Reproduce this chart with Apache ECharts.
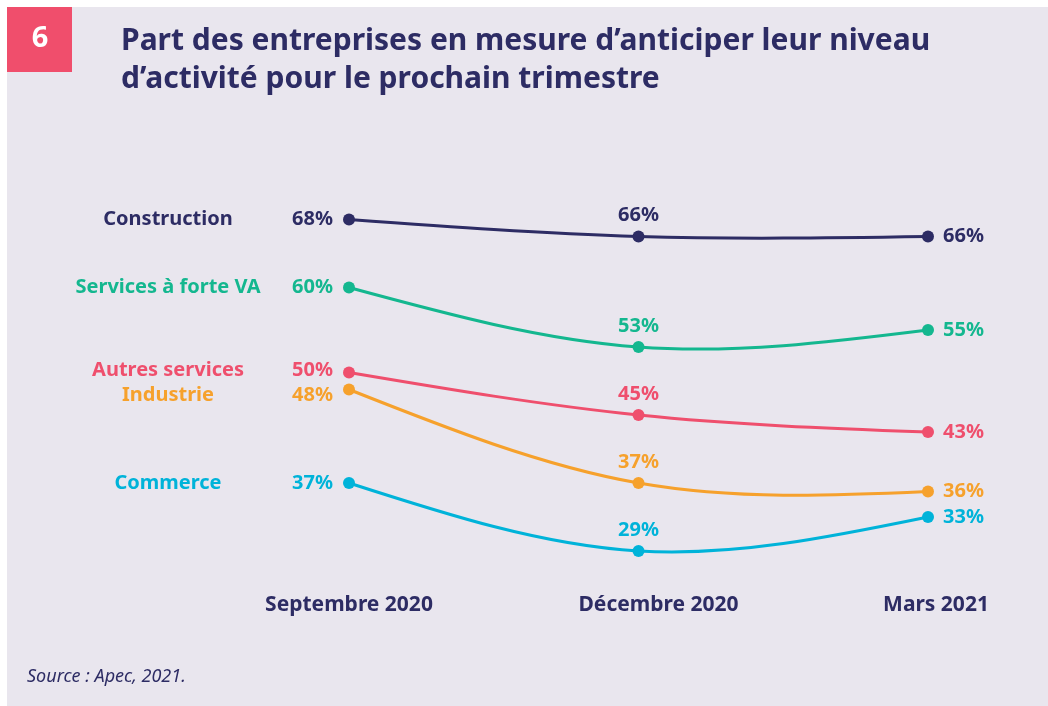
<!DOCTYPE html>
<html>
<head>
<meta charset="utf-8">
<script src="https://cdn.jsdelivr.net/npm/echarts@6/dist/echarts.min.js"></script>
<style>
  html, body { margin: 0; padding: 0; background: #fff; }
  #chart { width: 1048px; height: 706px; }
</style>
</head>
<body>
<div id="chart"></div>
<script>
const categories = ['Septembre 2020', 'Décembre 2020', 'Mars 2021']
const seriesNames = ['Construction', 'Services à forte VA', 'Autres services', 'Industrie', 'Commerce']
const construction = [68, 66, 66]
const servicesVA = [60, 53, 55]
const autresServices = [50, 45, 43]
const industrie = [48, 37, 36]
const commerce = [37, 29, 33]
const colors = ['#2d2c64', '#14b78f', '#ef4f6d', '#f6a12c', '#00b3d9']
// vertical nudge of the left-hand labels so close series don't collide
const leftLabelShift = [0, 0, -2, 6, 0]

const font = 'Noto Sans'
const navy = '#2d2c64'
const fs = 20

// natural cubic spline through pixel points -> bezier segments
function naturalSpline(pts) {
  const n = pts.length
  const solve = (k) => {
    const a = [], b = [], c = [], r = []
    for (let i = 0; i < n; i++) {
      if (i === 0) { a[i] = 0; b[i] = 2; c[i] = 1; r[i] = 3 * (pts[1][k] - pts[0][k]) }
      else if (i === n - 1) { a[i] = 1; b[i] = 2; c[i] = 0; r[i] = 3 * (pts[n - 1][k] - pts[n - 2][k]) }
      else { a[i] = 1; b[i] = 4; c[i] = 1; r[i] = 3 * (pts[i + 1][k] - pts[i - 1][k]) }
    }
    for (let i = 1; i < n; i++) {
      const m = a[i] / b[i - 1]
      b[i] -= m * c[i - 1]
      r[i] -= m * r[i - 1]
    }
    const d = []
    d[n - 1] = r[n - 1] / b[n - 1]
    for (let i = n - 2; i >= 0; i--) d[i] = (r[i] - c[i] * d[i + 1]) / b[i]
    return d
  }
  const dx = solve(0)
  const dy = solve(1)
  const segs = []
  for (let i = 0; i < n - 1; i++) {
    segs.push({
      x1: pts[i][0], y1: pts[i][1],
      cpx1: pts[i][0] + dx[i] / 3, cpy1: pts[i][1] + dy[i] / 3,
      cpx2: pts[i + 1][0] - dx[i + 1] / 3, cpy2: pts[i + 1][1] - dy[i + 1] / 3,
      x2: pts[i + 1][0], y2: pts[i + 1][1]
    })
  }
  return segs
}

function curveSeries(values, color) {
  return {
    type: 'custom',
    coordinateSystem: 'cartesian2d',
    silent: true,
    z: 1,
    clip: false,
    data: [[0, values[0]]],
    renderItem: (params, api) => {
      const pts = values.map((v, i) => api.coord([i, v]))
      return {
        type: 'group',
        children: naturalSpline(pts).map(s => ({
          type: 'bezierCurve',
          shape: s,
          style: { stroke: color, lineWidth: 3, fill: null }
        }))
      }
    }
  }
}

function pointSeries(name, values, color, shift) {
  const data = values.map((v, i) => {
    let label
    if (i === 0) {
      label = {
        position: 'left',
        distance: 10,
        offset: [0, shift],
        formatter: '{n|' + name + '}{v|' + v + '%}',
        rich: {
          n: { width: 230, align: 'center', color: color, fontFamily: font, fontWeight: 'bold', fontSize: fs },
          v: { width: 50, align: 'right', color: color, fontFamily: font, fontWeight: 'bold', fontSize: fs }
        }
      }
    } else if (i === 1) {
      label = { position: 'top', distance: 5, formatter: v + '%' }
    } else {
      label = { position: 'right', distance: 9, formatter: v + '%' }
    }
    return { value: v, label: label }
  })
  return {
    name: name,
    type: 'line',
    z: 3,
    symbol: 'circle',
    symbolSize: 12,
    lineStyle: { width: 0, opacity: 0 },
    itemStyle: { color: color },
    label: {
      show: true,
      color: color,
      fontFamily: font,
      fontWeight: 'bold',
      fontSize: fs
    },
    emphasis: { disabled: true },
    data: data
  }
}

const allValues = [construction, servicesVA, autresServices, industrie, commerce]
const series = []
allValues.forEach((vals, i) => {
  series.push(curveSeries(vals, colors[i]))
  series.push(pointSeries(seriesNames[i], vals, colors[i], leftLabelShift[i]))
})

const chart = echarts.init(document.getElementById('chart'))
const option = {
  backgroundColor: '#ffffff',
  animation: false,
  graphic: [
    { type: 'rect', z: -10, shape: { x: 7, y: 7, width: 1041, height: 699 }, style: { fill: '#e9e6ee' } },
    { type: 'rect', z: -5, shape: { x: 7, y: 7, width: 65, height: 65 }, style: { fill: '#f04e6c' } },
    { type: 'text', z: -4, x: 40, y: 39, style: { text: '6', fill: '#fff', font: 'bold 29px "Noto Sans"', align: 'center', verticalAlign: 'middle' } },
    { type: 'text', z: -4, x: 27, y: 677, style: { text: 'Source : Apec, 2021.', fill: navy, font: 'italic 18px "Noto Sans"', verticalAlign: 'middle' } }
  ],
  title: {
    text: 'Part des entreprises en mesure d’anticiper leur niveau\nd’activité pour le prochain trimestre',
    left: 121,
    top: 22,
    padding: 0,
    textStyle: { color: navy, fontFamily: font, fontWeight: 'bold', fontSize: 30, lineHeight: 38 }
  },
  grid: { left: 349, right: 120, top: 160, height: 425 },
  xAxis: {
    type: 'category',
    data: categories,
    boundaryGap: false,
    axisLine: { show: false },
    axisTick: { show: false },
    splitLine: { show: false },
    axisLabel: {
      margin: 10,
      formatter: (val, idx) => ['{a|', '{b|', '{c|'][idx] + val + '}',
      rich: {
        a: { color: navy, fontFamily: font, fontWeight: 'bold', fontSize: 21 },
        b: { color: navy, fontFamily: font, fontWeight: 'bold', fontSize: 21, padding: [0, 0, 0, 40] },
        c: { color: navy, fontFamily: font, fontWeight: 'bold', fontSize: 21, padding: [0, 0, 0, 16] }
      }
    }
  },
  yAxis: {
    type: 'value',
    min: 25,
    max: 75,
    show: false,
    splitLine: { show: false }
  },
  series: series
}
chart.setOption(option)
</script>
</body>
</html>
